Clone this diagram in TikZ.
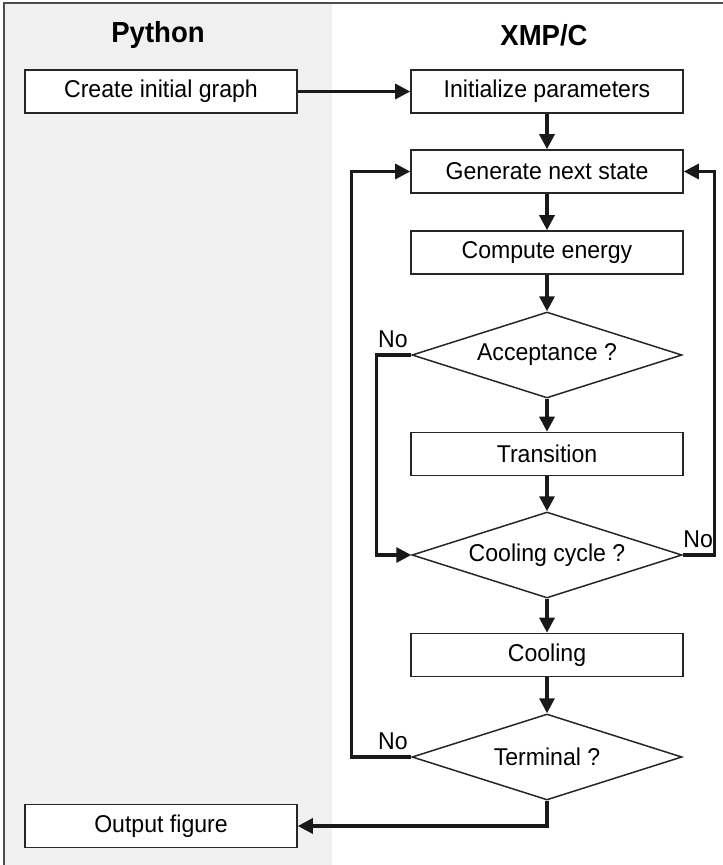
\documentclass[tikz,border=0pt]{standalone}
\usepackage{fontspec}
\setmainfont{Liberation Sans}[FakeStretch=0.95]
\usetikzlibrary{arrows.meta,shapes.geometric,positioning}

\begin{document}
\begin{tikzpicture}[x=1pt,y=-1pt,>={Triangle[length=15pt,width=15pt]},
  proc box/.style={draw=black!85,fill=white,line width=1.6pt,minimum width=272pt,
    minimum height=43pt,inner sep=0pt,font=\fontsize{24.3}{28}\selectfont},
  test node/.style={diamond,aspect=3.14,draw=black!85,fill=white,line width=1.5pt,
    minimum width=270pt,minimum height=86pt,inner sep=0pt,font=\fontsize{24.3}{28}\selectfont},
  flow/.style={->,line width=3.2pt,draw=black!90},
  lane title/.style={font=\fontsize{29}{33}\selectfont\bfseries},
  no label/.style={font=\fontsize{24.3}{28}\selectfont,inner sep=2pt,yshift=4pt}]

  % the two lanes
  \useasboundingbox (0,0) rectangle (723,865);
  \fill[black!6] (4,3) rectangle (332,865);
  \draw[black!70,line width=1.3pt] (4,865) -- (4,3) -- (723,3);

  \node[lane title] (py) at (158,35) {Python};
  \node[lane title] (xmp) at (544,35) {XMP/C};

  \node[proc box] (create) at (161,91.5) {Create initial graph};
  \node[proc box] (init) at (547,91.5) {Initialize parameters};
  \node[proc box,node distance=80pt,below of=init] (gen) {Generate next state};
  \node[proc box,node distance=81pt,below of=gen] (energy) {Compute energy};
  \node[test node,node distance=102.5pt,below of=energy] (accept) {Acceptance ?};
  \node[proc box,node distance=99pt,below of=accept] (trans) {Transition};
  \node[test node,node distance=101pt,below of=trans] (cycle) {Cooling cycle ?};
  \node[proc box,node distance=100pt,below of=cycle] (cool) {Cooling};
  \node[test node,node distance=102pt,below of=cool] (term) {Terminal ?};
  \node[proc box] (output) at (161,826) {Output figure};

  % main flow
  \draw[flow] (create) -- (init);
  \draw[flow] (init) -- (gen);
  \draw[flow] (gen) -- (energy);
  \draw[flow] (energy) -- (accept);
  \draw[flow] (accept) -- (trans);
  \draw[flow] (trans) -- (cycle);
  \draw[flow] (cycle) -- (cool);
  \draw[flow] (cool) -- (term);
  \draw[flow] (term.south) |- (output.east);

  % loops back
  \draw[flow] (accept.west) node[no label,above left] {No} -- ++(-35,0) |- (cycle.west);
  \draw[flow] (cycle.east) node[no label,above right,xshift=-3pt] {No} -- ++(32,0) |- (gen.east);
  \draw[flow] (term.west) node[no label,above left] {No} -- ++(-60,0) |- (gen.west);
\end{tikzpicture}
\end{document}
